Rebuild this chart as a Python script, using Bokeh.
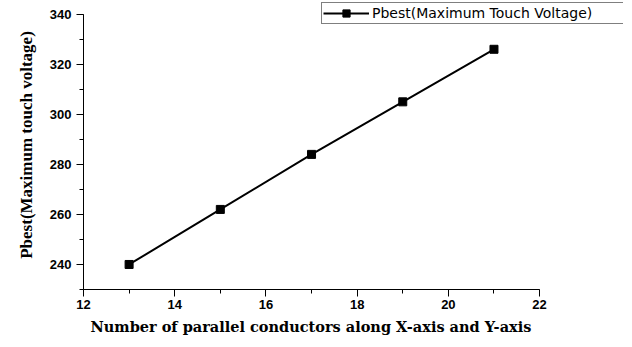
from bokeh.plotting import figure
from bokeh.models import Range1d, SingleIntervalTicker, Legend, Title
from bokeh.embed import file_html
from bokeh.resources import INLINE

x_vals = [13, 15, 17, 19, 21]
pbest = [240, 262, 284, 305, 326]
series_name = "Pbest(Maximum Touch Voltage)"
x_title = "Number of parallel conductors along X-axis and Y-axis"
y_title = "Pbest(Maximum touch voltage)"

# frame extends beyond the drawn axes so the legend can sit top-right
p = figure(width=624, height=339, output_backend="svg", toolbar_location=None,
           x_range=Range1d(12, 23.84), y_range=Range1d(230, 345.5))
p.min_border_left = 83
p.min_border_right = 1
p.min_border_top = 0
p.min_border_bottom = 49
p.outline_line_color = None
p.xgrid.visible = False
p.ygrid.visible = False

r1 = p.line(x_vals, pbest, line_color="black", line_width=2)
r2 = p.scatter(x_vals, pbest, marker="square", size=8, fill_color="black", line_color="black")

p.xaxis.ticker = SingleIntervalTicker(interval=2, num_minor_ticks=2)
p.yaxis.ticker = SingleIntervalTicker(interval=20, num_minor_ticks=2)
p.xaxis.bounds = (12, 22)
p.yaxis.bounds = (230, 340)

for ax in (p.xaxis[0], p.yaxis[0]):
    ax.axis_line_color = "black"
    ax.axis_line_width = 1
    ax.major_tick_in = 0
    ax.major_tick_out = 7
    ax.minor_tick_in = 0
    ax.minor_tick_out = 4
    ax.major_tick_line_color = "black"
    ax.minor_tick_line_color = "black"
    ax.major_label_text_font = "Liberation Sans"
    ax.major_label_text_font_style = "bold"
    ax.major_label_text_font_size = "13px"
    ax.major_label_text_color = "black"
    ax.major_label_standoff = 5
    ax.axis_label_text_font_style = "bold"
    ax.axis_label_text_color = "black"

p.xaxis.major_label_standoff = 3

# x-axis title placed as a left-aligned title below the axis
xt = Title(text=x_title, align="left", offset=7, standoff=9,
           text_font="DejaVu Serif", text_font_size="14.5px",
           text_font_style="bold", text_color="black")
p.add_layout(xt, "below")

p.yaxis.axis_label = y_title
p.yaxis.axis_label_text_font = "Liberation Serif"
p.yaxis.axis_label_text_font_size = "17px"
p.yaxis.axis_label_standoff = 11

legend = Legend(items=[(series_name, [r1, r2])], location=(238, 265))
legend.border_line_color = "black"
legend.border_line_width = 1
legend.padding = 1
legend.margin = 0
legend.spacing = 0
legend.glyph_width = 46
legend.glyph_height = 18
legend.label_height = 18
legend.label_width = 252
legend.label_standoff = 3
legend.label_text_font = "DejaVu Sans"
legend.label_text_font_size = "14px"
legend.label_text_color = "black"
legend.background_fill_alpha = 1
p.add_layout(legend, "center")

open("out.html", "w").write(file_html(p, INLINE))
